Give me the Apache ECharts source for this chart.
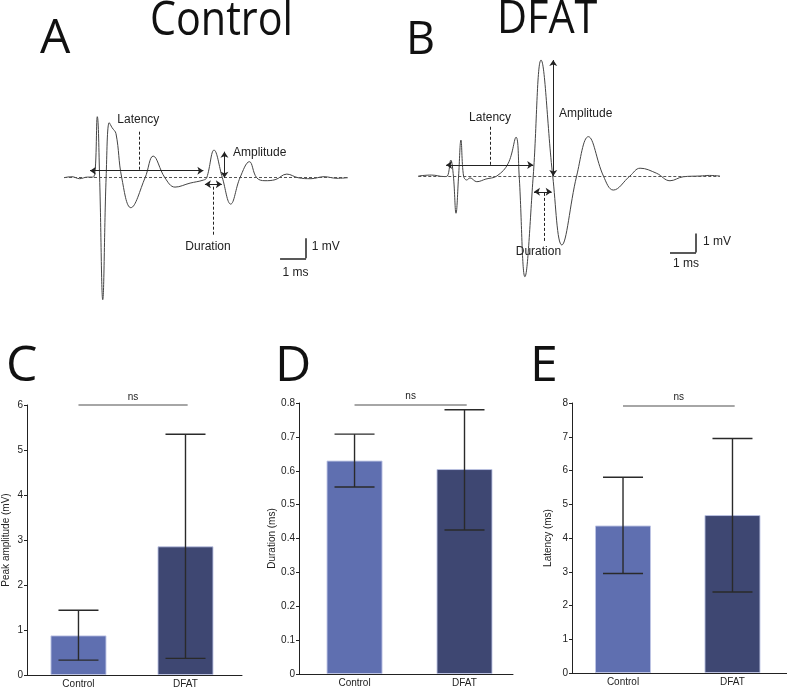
<!DOCTYPE html>
<html><head><meta charset="utf-8">
<script src="https://cdn.jsdelivr.net/npm/echarts@6/dist/echarts.min.js"></script>
<style>html,body{margin:0;padding:0;background:#fff}#c{width:787px;height:687px}</style>
</head><body><div id="c"></div>
<script>
// ---- Data ----
// Representative traces (time in ms, voltage in mV, baseline = 0)
const controlTraceT = [0,0.3,0.6,0.9,1.13,1.28,1.37,1.49,1.62,1.74,1.85,2.0,2.22,2.57,3.12,3.43,3.88,4.27,4.85,5.36,5.49,5.77,6.09,6.41,6.77,7.13,7.41,7.73,8.12,8.57,9.0,9.5,10.0,10.5,10.92];
const controlTraceV = [0,0.05,-0.05,0.03,0.03,3.05,0,-6.1,0,2.75,2.5,2.2,0,-1.5,0,1.08,0,-0.47,-0.27,-0.12,0,1.38,0,-1.32,0,0.8,0,-0.15,-0.1,0.18,0,-0.05,0.05,-0.03,0];
const dfatTraceT = [0,0.5,1.0,1.12,1.25,1.35,1.45,1.55,1.64,1.74,1.86,1.99,2.25,2.6,3.02,3.46,3.76,3.88,4.1,4.42,4.72,5.17,5.52,6.09,6.54,7.12,7.5,8.14,8.53,9.17,9.68,10.19,10.83,11.2,11.6];
const dfatTraceV = [0,0.05,-0.03,0,0.84,0,-1.96,0,1.89,0,-0.21,-0.1,-0.3,-0.16,0,0.67,2.04,0,-5.3,0,6.1,0,-3.63,0,2.07,0,-0.74,0,0.41,0.14,-0.25,-0.04,0,0.03,0];

const groups = ['Control', 'DFAT'];
const amplitudeMean = [0.88, 2.86];
const amplitudeLow  = [0.33, 0.37];
const amplitudeHigh = [1.44, 5.35];
const durationMean = [0.63, 0.605];
const durationLow  = [0.552, 0.425];
const durationHigh = [0.708, 0.78];
const latencyMean = [4.37, 4.68];
const latencyLow  = [2.95, 2.40];
const latencyHigh = [5.80, 6.95];
const amplitudeTicks = [0, 6, 1];
const durationTicks = [0, 0.8, 0.1];
const latencyTicks = [0, 8, 1];

// ---- Helpers ----
const barColors = ['#5f6fb0', '#3e4772'];
const FONT = 'Liberation Sans, Arial, sans-serif';
const TITLE_FONT = 'Open Sans, sans-serif';

function pairs(t, v) { return t.map((x, i) => [x, v[i]]); }

function seg(a, b, opts) {
  opts = opts || {};
  return [
    { coord: a, symbol: opts.arrow ? 'arrow' : 'none', symbolSize: 6 },
    { coord: b, symbol: opts.arrow ? 'arrow' : 'none', symbolSize: 6,
      lineStyle: { color: opts.color || '#222', width: opts.width || 1, type: opts.dash ? [3, 2] : 'solid' } }
  ];
}
function txt(coord, text, align) {
  return { coord: coord, value: text, symbolSize: 0,
    label: { show: true, formatter: text, position: 'inside', align: align || 'center', verticalAlign: 'middle',
      color: '#222', fontSize: 12, fontFamily: FONT } };
}

function traceSeries(gi, data, marks, texts) {
  return {
    type: 'line', xAxisIndex: gi, yAxisIndex: gi, data: data, showSymbol: false, symbol: 'none',
    smooth: 0.4, lineStyle: { color: '#444', width: 1 }, silent: true,
    markLine: { silent: true, symbol: 'none', label: { show: false }, data: marks, animation: false },
    markPoint: { silent: true, symbol: 'circle', itemStyle: { color: 'rgba(0,0,0,0)' }, data: texts, animation: false }
  };
}

const gA = { left: 64, width: 286, top: 97.7, height: 220, outerBoundsMode: 'none' };
const gB = { left: 418.3, width: 301.6, top: 43, height: 247, outerBoundsMode: 'none' };

const marksA = [
  seg([0, 0], [10.92, 0], { dash: true, color: '#555' }),
  seg([1.0, 0.35], [5.36, 0.35], { arrow: true }),
  seg([2.88, 2.3], [2.88, 0.35], { dash: true }),
  seg([6.17, 0], [6.17, 1.3], { arrow: true }),
  seg([5.42, -0.33], [6.07, -0.33], { arrow: true }),
  seg([5.74, -0.45], [5.74, -2.87], { dash: true }),
  seg([9.31, -3.03], [9.31, -4.03], { width: 1.5 }),
  seg([8.31, -4.03], [9.31, -4.03], { width: 1.5 })
];
const textsA = [
  txt([2.86, 2.89], 'Latency'),
  txt([6.5, 1.24], 'Amplitude', 'left'),
  txt([5.54, -3.45], 'Duration'),
  txt([9.53, -3.45], '1 mV', 'left'),
  txt([8.9, -4.75], '1 ms')
];
const marksB = [
  seg([0, 0], [11.6, 0], { dash: true, color: '#555' }),
  seg([1.07, 0.58], [4.42, 0.58], { arrow: true }),
  seg([2.78, 2.59], [2.78, 0.58], { dash: true }),
  seg([5.19, 0], [5.19, 6.1], { arrow: true }),
  seg([4.45, -0.83], [5.13, -0.83], { arrow: true }),
  seg([4.85, -0.89], [4.85, -3.46], { dash: true }),
  seg([10.68, -3.02], [10.68, -4.02], { width: 1.5 }),
  seg([9.68, -4.02], [10.68, -4.02], { width: 1.5 })
];
const textsB = [
  txt([2.76, 3.09], 'Latency'),
  txt([5.41, 3.26], 'Amplitude', 'left'),
  txt([4.62, -4.0], 'Duration'),
  txt([10.95, -3.46], '1 mV', 'left'),
  txt([10.3, -4.63], '1 ms')
];

// bar panels
const panels = [
  { grid: { left: 27, right: 545, top: 405, bottom: 12, outerBoundsMode: 'none' }, xr: [-0.481, 1.528], ticks: amplitudeTicks,
    mean: amplitudeMean, lo: amplitudeLow, hi: amplitudeHigh, name: 'Peak amplitude (mV)', nameGap: 16, ns: 6, dec: 0 },
  { grid: { left: 299, right: 274, top: 403, bottom: 13, outerBoundsMode: 'none' }, xr: [-0.505, 1.441], ticks: durationTicks,
    mean: durationMean, lo: durationLow, hi: durationHigh, name: 'Duration (ms)', nameGap: 22, ns: 0.795, dec: 1 },
  { grid: { left: 572, right: 0, top: 403, bottom: 14, outerBoundsMode: 'none' }, xr: [-0.466, 1.498], ticks: latencyTicks,
    mean: latencyMean, lo: latencyLow, hi: latencyHigh, name: 'Latency (ms)', nameGap: 19, ns: 7.92, dec: 0 }
];

const grids = [gA, gB].concat(panels.map(p => p.grid));
const xAxes = [
  { gridIndex: 0, type: 'value', min: 0, max: 11, show: false },
  { gridIndex: 1, type: 'value', min: 0, max: 11.6, show: false }
];
const yAxes = [
  { gridIndex: 0, type: 'value', min: -7, max: 4, show: false },
  { gridIndex: 1, type: 'value', min: -6, max: 7, show: false }
];
const series = [
  traceSeries(0, pairs(controlTraceT, controlTraceV), marksA, textsA),
  traceSeries(1, pairs(dfatTraceT, dfatTraceV), marksB, textsB)
];

panels.forEach((p, k) => {
  const gi = k + 2;
  xAxes.push({
    gridIndex: gi, type: 'value', min: p.xr[0], max: p.xr[1],
    splitLine: { show: false },
    axisLine: { show: true, onZero: false, lineStyle: { color: '#222', width: 1 } },
    axisTick: { show: false },
    axisLabel: { customValues: [0, 1], formatter: v => groups[Math.round(v)] || '', color: '#222', fontSize: 10, fontFamily: FONT, margin: 4 }
  });
  yAxes.push({
    gridIndex: gi, type: 'value', min: p.ticks[0], max: p.ticks[1], interval: p.ticks[2],
    name: p.name, nameLocation: 'middle', nameGap: p.nameGap, nameMoveOverlap: false,
    nameTextStyle: { color: '#222', fontSize: 10, fontFamily: FONT },
    splitLine: { show: false },
    axisLine: { show: true, onZero: false, lineStyle: { color: '#222', width: 1 } },
    axisTick: { show: true, length: 3, lineStyle: { color: '#222' } },
    axisLabel: { color: '#222', fontSize: 10, fontFamily: FONT, margin: 4,
      formatter: v => p.dec ? (v === 0 ? '0' : v.toFixed(1)) : String(v) }
  });
  series.push({
    type: 'bar', xAxisIndex: gi, yAxisIndex: gi, barWidth: 56, z: 2,
    data: groups.map((g, i) => ({ value: [i, p.mean[i]], itemStyle: { color: barColors[i], borderColor: 'rgba(190,196,228,0.9)', borderWidth: 1 } })),
    silent: true,
    markLine: {
      silent: true, symbol: 'none', animation: false,
      lineStyle: { color: '#888', width: 1.5, type: 'solid' },
      label: { show: true, formatter: 'ns', position: 'insideMiddleTop', distance: 3, color: '#222', fontSize: 10, fontFamily: FONT },
      data: [[{ coord: [0, p.ns] }, { coord: [1.02, p.ns] }]]
    }
  });
  series.push({
    type: 'custom', xAxisIndex: gi, yAxisIndex: gi, silent: true, z: 10,
    data: groups.map((g, i) => [i, p.lo[i], p.hi[i]]),
    renderItem: function (params, api) {
      const x = api.value(0);
      const lo = api.coord([x, api.value(1)]);
      const hi = api.coord([x, api.value(2)]);
      const hw = 20;
      const st = { stroke: '#2a2a2a', lineWidth: 1.4 };
      return { type: 'group', children: [
        { type: 'line', shape: { x1: lo[0], y1: lo[1], x2: hi[0], y2: hi[1] }, style: st },
        { type: 'line', shape: { x1: hi[0] - hw, y1: hi[1], x2: hi[0] + hw, y2: hi[1] }, style: st },
        { type: 'line', shape: { x1: lo[0] - hw, y1: lo[1], x2: lo[0] + hw, y2: lo[1] }, style: st }
      ] };
    }
  });
});

function title(text, x, y, size, sx) {
  return { type: 'text', left: x, top: y, scaleX: sx || 1,
    style: { text: text, font: size + 'px ' + TITLE_FONT, fill: '#111' } };
}

const chart = echarts.init(document.getElementById('c'), null, { renderer: 'canvas' });
chart.setOption({
  animation: false,
  backgroundColor: '#fff',
  grid: grids,
  xAxis: xAxes,
  yAxis: yAxes,
  series: series,
  graphic: [
    title('A', 40, 15, 48),
    title('Control', 150, -3, 48, 0.86),
    title('B', 406, 19, 45),
    title('DFAT', 497, -2, 45, 0.92),
    title('C', 6, 342, 50),
    title('D', 275, 342, 50),
    title('E', 530, 342, 50)
  ]
});
</script>
</body></html>
